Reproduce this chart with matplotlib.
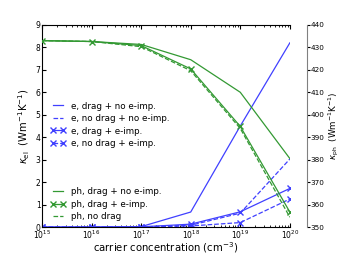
import matplotlib
matplotlib.use("Agg")
import matplotlib.pyplot as plt

# carrier concentration (cm^-3)
conc = [1e15, 1e16, 1e17, 1e18, 1e19, 1e20]

# electronic thermal conductivity (left axis)
e_drag_noimp = [0, 0, 0.02, 0.67, 4.5, 8.2]
e_nodrag_noimp = [0, 0, 0.01, 0.08, 0.62, 3.03]
e_drag_imp = [0, 0, 0.01, 0.13, 0.68, 1.72]
e_nodrag_imp = [0, 0, 0, 0.05, 0.2, 1.25]

# phonon thermal conductivity (right axis)
ph_drag_noimp = [433, 432.6, 431.3, 424.5, 410, 380.5]
ph_drag_imp = [433, 432.6, 430.8, 420.4, 394.8, 356.7]
ph_nodrag = [433, 432.6, 430.3, 419.6, 393.9, 354.4]

plt.rcParams['xtick.direction'] = 'in'
plt.rcParams['ytick.direction'] = 'in'
plt.rcParams['font.size'] = 7

fig = plt.figure(figsize=(3.39, 2.54), dpi=100)
ax = fig.add_axes([0.124, 0.106, 0.731, 0.796])
ax2 = ax.twinx()

bc = (0.25, 0.25, 1.0)
gc = (0.2, 0.6, 0.2)

l1, = ax.plot(conc, e_drag_noimp, '-', color=bc, lw=0.9)
l2, = ax.plot(conc, e_nodrag_noimp, '--', color=bc, lw=0.9)
l3, = ax.plot(conc, e_drag_imp, '-x', color=bc, lw=0.9, ms=5)
l4, = ax.plot(conc, e_nodrag_imp, '--x', color=bc, lw=0.9, ms=5)

g1, = ax2.plot(conc, ph_drag_noimp, '-', color=gc, lw=0.9)
g2, = ax2.plot(conc, ph_drag_imp, '-x', color=gc, lw=0.9, ms=5)
g3, = ax2.plot(conc, ph_nodrag, '--', color=gc, lw=0.9)

ax.set_xscale('log')
ax.set_xlim(1e15, 1e20)
ax.set_ylim(0, 9)
ax2.set_ylim(350, 440)
ax.set_yticks(range(0, 10))
ax2.set_yticks(range(350, 441, 10))

ax.tick_params(labelsize=5.5, pad=1, top=True, which='both')
ax.tick_params(which='major', length=3)
ax.tick_params(which='minor', length=1.5)
ax2.tick_params(labelsize=5.2, direction='out', pad=0.5, length=2.5)
ax2.spines['right'].set_position(('outward', 12))
ax2.spines['right'].set_color('0.5')
ax2.spines['left'].set_visible(False)
ax2.spines['top'].set_visible(False)
ax2.spines['bottom'].set_visible(False)
ax.spines['right'].set_visible(False)

ax.set_xlabel('carrier concentration (cm$^{-3}$)', fontsize=7.3)
ax.xaxis.set_label_coords(0.5, -0.063)
ax.set_ylabel(r'$\kappa_{\rm el}$  (Wm$^{-1}$K$^{-1}$)', fontsize=7.2, labelpad=3)
ax2.set_ylabel(r'$\kappa_{\rm ph}$  (Wm$^{-1}$K$^{-1}$)', fontsize=6.3)
ax2.yaxis.set_label_coords(1.178, 0.5)
ax2.yaxis.label.set_va('center')

leg1 = ax.legend([l1, l2, l3, l4],
                 ['e, drag + no e-imp.', 'e, no drag + no e-imp.',
                  'e, drag + e-imp.', 'e, no drag + e-imp.'],
                 loc='upper left', bbox_to_anchor=(0.0, 0.66), frameon=False,
                 fontsize=6.3, numpoints=2, handlelength=1.8, handletextpad=0.6,
                 labelspacing=0.4)
ax2.legend([g1, g2, g3],
           ['ph, drag + no e-imp.', 'ph, drag + e-imp.', 'ph, no drag'],
           loc='upper left', bbox_to_anchor=(0.0, 0.235), frameon=False,
           fontsize=6.3, numpoints=2, handlelength=1.8, handletextpad=0.6,
           labelspacing=0.4)

fig.savefig('out.png', dpi=100)
